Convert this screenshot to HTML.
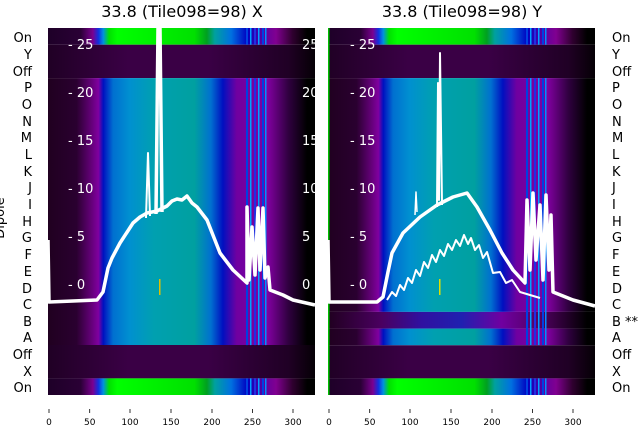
<!DOCTYPE html>
<html><head><meta charset="utf-8"><style>
html,body{margin:0;padding:0;background:#fff;}
svg{display:block;font-family:"DejaVu Sans","Liberation Sans",sans-serif;}
</style></head><body>
<svg width="640" height="440" viewBox="0 0 640 440" xmlns="http://www.w3.org/2000/svg">
<defs>
<linearGradient id="gOn" x1="0" x2="267" y1="0" y2="0" gradientUnits="userSpaceOnUse">
<stop offset="0" stop-color="#1e0028"/><stop offset=".122" stop-color="#2a0035"/><stop offset=".168" stop-color="#7a0090"/><stop offset=".189" stop-color="#1030e0"/><stop offset=".207" stop-color="#0090e0"/><stop offset=".229" stop-color="#00e000"/><stop offset=".259" stop-color="#00ff00"/><stop offset=".549" stop-color="#00e000"/><stop offset=".595" stop-color="#00a020"/><stop offset=".625" stop-color="#00a0a0"/><stop offset=".686" stop-color="#0070e0"/><stop offset=".747" stop-color="#0000c0"/><stop offset=".808" stop-color="#6000a0"/><stop offset=".854" stop-color="#800090"/><stop offset=".915" stop-color="#300030"/><stop offset=".97" stop-color="#000"/>
</linearGradient>
<linearGradient id="gMid" x1="0" x2="267" y1="0" y2="0" gradientUnits="userSpaceOnUse">
<stop offset="0" stop-color="#200020"/><stop offset=".107" stop-color="#2a0030"/><stop offset=".168" stop-color="#6a0080"/><stop offset=".189" stop-color="#8000a0"/><stop offset=".207" stop-color="#0010c0"/><stop offset=".244" stop-color="#0070d0"/><stop offset=".305" stop-color="#0090d0"/><stop offset=".396" stop-color="#00a0b0"/><stop offset=".549" stop-color="#00a0a0"/><stop offset=".61" stop-color="#0070d0"/><stop offset=".655" stop-color="#0010c0"/><stop offset=".707" stop-color="#7000a0"/><stop offset=".823" stop-color="#8000a0"/><stop offset=".9" stop-color="#300040"/><stop offset=".97" stop-color="#000"/>
</linearGradient>
<linearGradient id="gOff" x1="0" x2="267" y1="0" y2="0" gradientUnits="userSpaceOnUse">
<stop offset="0" stop-color="#200025"/><stop offset=".3" stop-color="#3a0045"/><stop offset=".6" stop-color="#3a0045"/><stop offset=".9" stop-color="#200025"/><stop offset="1" stop-color="#050005"/>
</linearGradient>
<linearGradient id="gB" x1="0" x2="267" y1="0" y2="0" gradientUnits="userSpaceOnUse">
<stop offset="0" stop-color="#200020"/><stop offset=".2" stop-color="#4a0060"/><stop offset=".35" stop-color="#3010a0"/><stop offset=".5" stop-color="#2020b0"/><stop offset=".65" stop-color="#7000a0"/><stop offset=".8" stop-color="#500060"/><stop offset=".97" stop-color="#000"/>
</linearGradient>
<g id="vl">
<rect x="198" y="0" width="2" height="10" fill="#0040e0"/>
<rect x="202" y="0" width="1.5" height="10" fill="#00a0ff"/>
<rect x="206" y="0" width="2" height="10" fill="#2030e0"/>
<rect x="210" y="0" width="1.5" height="10" fill="#00a0ff"/>
<rect x="214" y="0" width="2" height="10" fill="#0040e0"/>
<rect x="217" y="0" width="1.5" height="10" fill="#0090ff"/>
</g>
</defs>

<g transform="translate(48,28)">
<rect x="0" y="0" width="267" height="16.7" fill="url(#gOn)"/>
<rect x="0" y="16.7" width="267" height="33.4" fill="url(#gOff)"/>
<rect x="0" y="50.1" width="267" height="267" fill="url(#gMid)"/>
<rect x="0" y="317" width="267" height="33.4" fill="url(#gOff)"/>
<rect x="0" y="350.4" width="267" height="16.6" fill="url(#gOn)"/>
<use href="#vl" transform="scale(1,1.67)"/>
<use href="#vl" transform="translate(0,50.1) scale(1,26.7)"/>
<use href="#vl" transform="translate(0,350.4) scale(1,1.66)"/>
</g>
<g transform="translate(328,28)">
<rect x="0" y="0" width="267" height="16.7" fill="url(#gOn)"/>
<rect x="0" y="16.7" width="267" height="33.4" fill="url(#gOff)"/>
<rect x="0" y="50.1" width="267" height="233.8" fill="url(#gMid)"/>
<rect x="0" y="283.9" width="267" height="16.7" fill="url(#gB)"/>
<rect x="0" y="300.6" width="267" height="16.7" fill="url(#gMid)"/>
<rect x="0" y="317.3" width="267" height="33.1" fill="url(#gOff)"/>
<rect x="0" y="350.4" width="267" height="16.6" fill="url(#gOn)"/>
<use href="#vl" transform="scale(1,1.67)"/>
<use href="#vl" transform="translate(0,50.1) scale(1,26.7)"/>
<use href="#vl" transform="translate(0,350.4) scale(1,1.66)"/>
<rect x="0" y="0" width="1.5" height="367" fill="#00c000"/>
</g>

<g fill="#fff" font-size="13">
<text x="68" y="49">- 25</text><text x="68" y="97">- 20</text><text x="68" y="145">- 15</text><text x="68" y="193">- 10</text><text x="68" y="241">- 5</text><text x="68" y="289">- 0</text>
<text x="302" y="49">25</text><text x="302" y="97">20</text><text x="302" y="145">15</text><text x="302" y="193">10</text><text x="302" y="241">5</text><text x="302" y="289">0</text>
<text x="350" y="49">- 25</text><text x="350" y="97">- 20</text><text x="350" y="145">- 15</text><text x="350" y="193">- 10</text><text x="350" y="241">- 5</text><text x="350" y="289">- 0</text>
</g>
<rect x="315" y="28" width="13" height="367" fill="#fff"/>

<rect x="159" y="279" width="1.5" height="16" fill="#e0c000"/>
<rect x="439" y="279" width="1.5" height="16" fill="#e0e000"/>

<g fill="none" stroke="#fff" stroke-linejoin="round">
<polyline stroke-width="3.5" points="48,240 49,302 97,300 103,292 108,268 112,258 120,243 133,223 140,217 147,213 157,211 167,206 172,201 177,199 182,200 187,196 192,203 197,207 207,220 220,253 233,270 247,283 247,207 249,280 252,227 255,275 258,208 260,270 263,208 265,278 268,267 270,290 283,295 293,300 315,305"/>
<polyline stroke-width="2" points="146,218 148,153 150,216"/>
<polyline stroke-width="3.5" points="156,214 158,28 160,28 162,212"/>
<polyline stroke-width="3.5" points="328,240 329,302 377,302 383,297 388,272 392,253 403,233 420,217 437,205 453,197 467,193 477,207 490,230 502,253 513,270 525,283 527,200 530,270 533,193 536,260 540,205 543,280 546,195 549,270 551,215 553,292 573,300 595,306"/>
<polyline stroke-width="2" points="437,207 438,83 439,200 440,53 442,205"/>
<polyline stroke-width="1.5" points="415,215 416,192 417,212"/>
<polyline stroke-width="2" points="387,300 392,292 396,296 400,285 404,290 408,278 412,283 416,270 420,276 424,262 428,268 432,255 436,262 440,250 444,256 448,244 452,250 456,240 460,246 464,235 468,244 471,238 475,250 479,245 483,258 487,252 493,273 500,272 506,283 512,280 520,292 540,298"/>
</g>

<text x="182" y="17" font-size="16" text-anchor="middle" fill="#000">33.8 (Tile098=98) X</text>
<text x="462" y="17" font-size="16" text-anchor="middle" fill="#000">33.8 (Tile098=98) Y</text>

<g font-size="13" fill="#000" text-anchor="end">
<text x="32" y="42">On</text><text x="32" y="59">Y</text><text x="32" y="76">Off</text><text x="32" y="92">P</text><text x="32" y="109">O</text><text x="32" y="126">N</text><text x="32" y="142">M</text><text x="32" y="159">L</text><text x="32" y="176">K</text><text x="32" y="192">J</text><text x="32" y="209">I</text><text x="32" y="226">H</text><text x="32" y="242">G</text><text x="32" y="259">F</text><text x="32" y="276">E</text><text x="32" y="293">D</text><text x="32" y="309">C</text><text x="32" y="326">B</text><text x="32" y="342">A</text><text x="32" y="359">Off</text><text x="32" y="376">X</text><text x="32" y="392">On</text>
</g>
<text transform="translate(4,218) rotate(-90)" font-size="13" text-anchor="middle" fill="#000">Dipole</text>
<g font-size="13" fill="#000">
<text x="612" y="42">On</text><text x="612" y="59">Y</text><text x="612" y="76">Off</text><text x="612" y="92">P</text><text x="612" y="109">O</text><text x="612" y="126">N</text><text x="612" y="142">M</text><text x="612" y="159">L</text><text x="612" y="176">K</text><text x="612" y="192">J</text><text x="612" y="209">I</text><text x="612" y="226">H</text><text x="612" y="242">G</text><text x="612" y="259">F</text><text x="612" y="276">E</text><text x="612" y="293">D</text><text x="612" y="309">C</text><text x="612" y="326">B **</text><text x="612" y="342">A</text><text x="612" y="359">Off</text><text x="612" y="376">X</text><text x="612" y="392">On</text>
</g>

<g stroke="#000" stroke-width="0.8">
<line x1="49" y1="409" x2="49" y2="413"/><line x1="89.7" y1="409" x2="89.7" y2="413"/><line x1="130" y1="409" x2="130" y2="413"/><line x1="171" y1="409" x2="171" y2="413"/><line x1="212" y1="409" x2="212" y2="413"/><line x1="252.5" y1="409" x2="252.5" y2="413"/><line x1="293" y1="409" x2="293" y2="413"/>
<line x1="329" y1="409" x2="329" y2="413"/><line x1="369.7" y1="409" x2="369.7" y2="413"/><line x1="410" y1="409" x2="410" y2="413"/><line x1="451" y1="409" x2="451" y2="413"/><line x1="492" y1="409" x2="492" y2="413"/><line x1="532.5" y1="409" x2="532.5" y2="413"/><line x1="573" y1="409" x2="573" y2="413"/>
</g>
<g font-size="9" fill="#000" text-anchor="middle">
<text x="49" y="425">0</text><text x="89.7" y="425">50</text><text x="130" y="425">100</text><text x="171" y="425">150</text><text x="212" y="425">200</text><text x="252.5" y="425">250</text><text x="293" y="425">300</text>
<text x="329" y="425">0</text><text x="369.7" y="425">50</text><text x="410" y="425">100</text><text x="451" y="425">150</text><text x="492" y="425">200</text><text x="532.5" y="425">250</text><text x="573" y="425">300</text>
</g>
</svg>
</body></html>
